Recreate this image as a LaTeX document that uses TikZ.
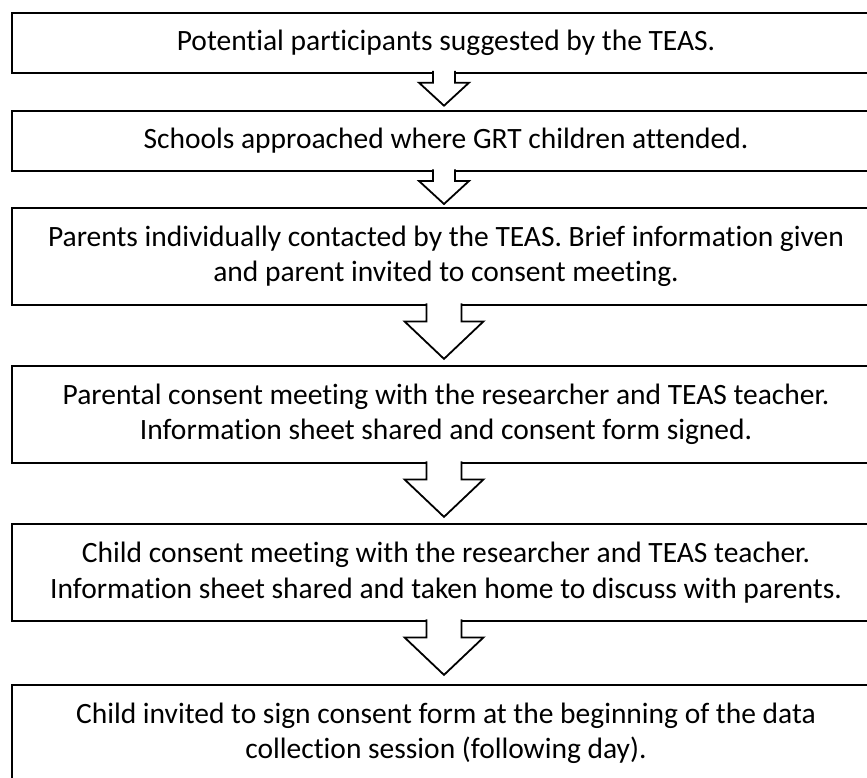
\documentclass[tikz,border=0pt]{standalone}
\usepackage{fontspec}
\setmainfont{Carlito}[Ligatures=NoCommon]
\usetikzlibrary{positioning}

\begin{document}
\begin{tikzpicture}[
x=1pt, y=-1pt,
line width=1.8pt,
box/.style={rectangle, draw, align=center, minimum width=868pt, minimum height=60pt, font=\fontsize{29.5}{35.5}\selectfont},
tall/.style={box, minimum height=97pt},
flow/.style={draw, fill=white}
]
\useasboundingbox (0,0) rectangle (867,778);
\clip (0,0) rectangle (867,778);

\node[box] (sugg) at (446,42.7) {Potential participants suggested by the TEAS.};
\node[box] (schools) at (446,141) {Schools approached where GRT children attended.};
\node[tall] (contact) at (446,256.5) {Parents individually contacted by the TEAS. Brief information given\\and parent invited to consent meeting.};
\node[tall] (parental) at (446,414.5) {Parental consent meeting with the researcher and TEAS teacher.\\Information sheet shared and consent form signed.};
\node[tall] (child) at (446,572.5) {Child consent meeting with the researcher and TEAS teacher.\\Information sheet shared and taken home to discuss with parents.};
\node[tall] (sign) at (446,733.5) {Child invited to sign consent form at the beginning of the data\\collection session (following day).};

\fill[white] (sugg.south) ++(-13,-2.6) -- ++(0,11.7) -- ++(-14,0) -- ++(25,23) -- ++(25,-23) -- ++(-14,0) -- ++(0,-11.7) -- cycle;
\draw (sugg.south) ++(-13,-2.6) -- ++(0,11.7) -- ++(-14,0) -- ++(25,23) -- ++(25,-23) -- ++(-14,0) -- ++(0,-11.7);
\fill[white] (schools.south) ++(-13,-2.6) -- ++(0,11.7) -- ++(-14,0) -- ++(25,23) -- ++(25,-23) -- ++(-14,0) -- ++(0,-11.7) -- cycle;
\draw (schools.south) ++(-13,-2.6) -- ++(0,11.7) -- ++(-14,0) -- ++(25,23) -- ++(25,-23) -- ++(-14,0) -- ++(0,-11.7);

\fill[white] (contact.south) ++(-19.5,-2.6) -- ++(0,18.1) -- ++(-22,0) -- ++(39.5,37.5) -- ++(39.5,-37.5) -- ++(-22,0) -- ++(0,-18.1) -- cycle;
\draw (contact.south) ++(-19.5,-2.6) -- ++(0,18.1) -- ++(-22,0) -- ++(39.5,37.5) -- ++(39.5,-37.5) -- ++(-22,0) -- ++(0,-18.1);
\fill[white] (parental.south) ++(-19.5,-2.6) -- ++(0,18.1) -- ++(-22,0) -- ++(39.5,37.5) -- ++(39.5,-37.5) -- ++(-22,0) -- ++(0,-18.1) -- cycle;
\draw (parental.south) ++(-19.5,-2.6) -- ++(0,18.1) -- ++(-22,0) -- ++(39.5,37.5) -- ++(39.5,-37.5) -- ++(-22,0) -- ++(0,-18.1);
\fill[white] (child.south) ++(-19.5,-2.6) -- ++(0,18.1) -- ++(-22,0) -- ++(39.5,37.5) -- ++(39.5,-37.5) -- ++(-22,0) -- ++(0,-18.1) -- cycle;
\draw (child.south) ++(-19.5,-2.6) -- ++(0,18.1) -- ++(-22,0) -- ++(39.5,37.5) -- ++(39.5,-37.5) -- ++(-22,0) -- ++(0,-18.1);

\end{tikzpicture}
\end{document}
